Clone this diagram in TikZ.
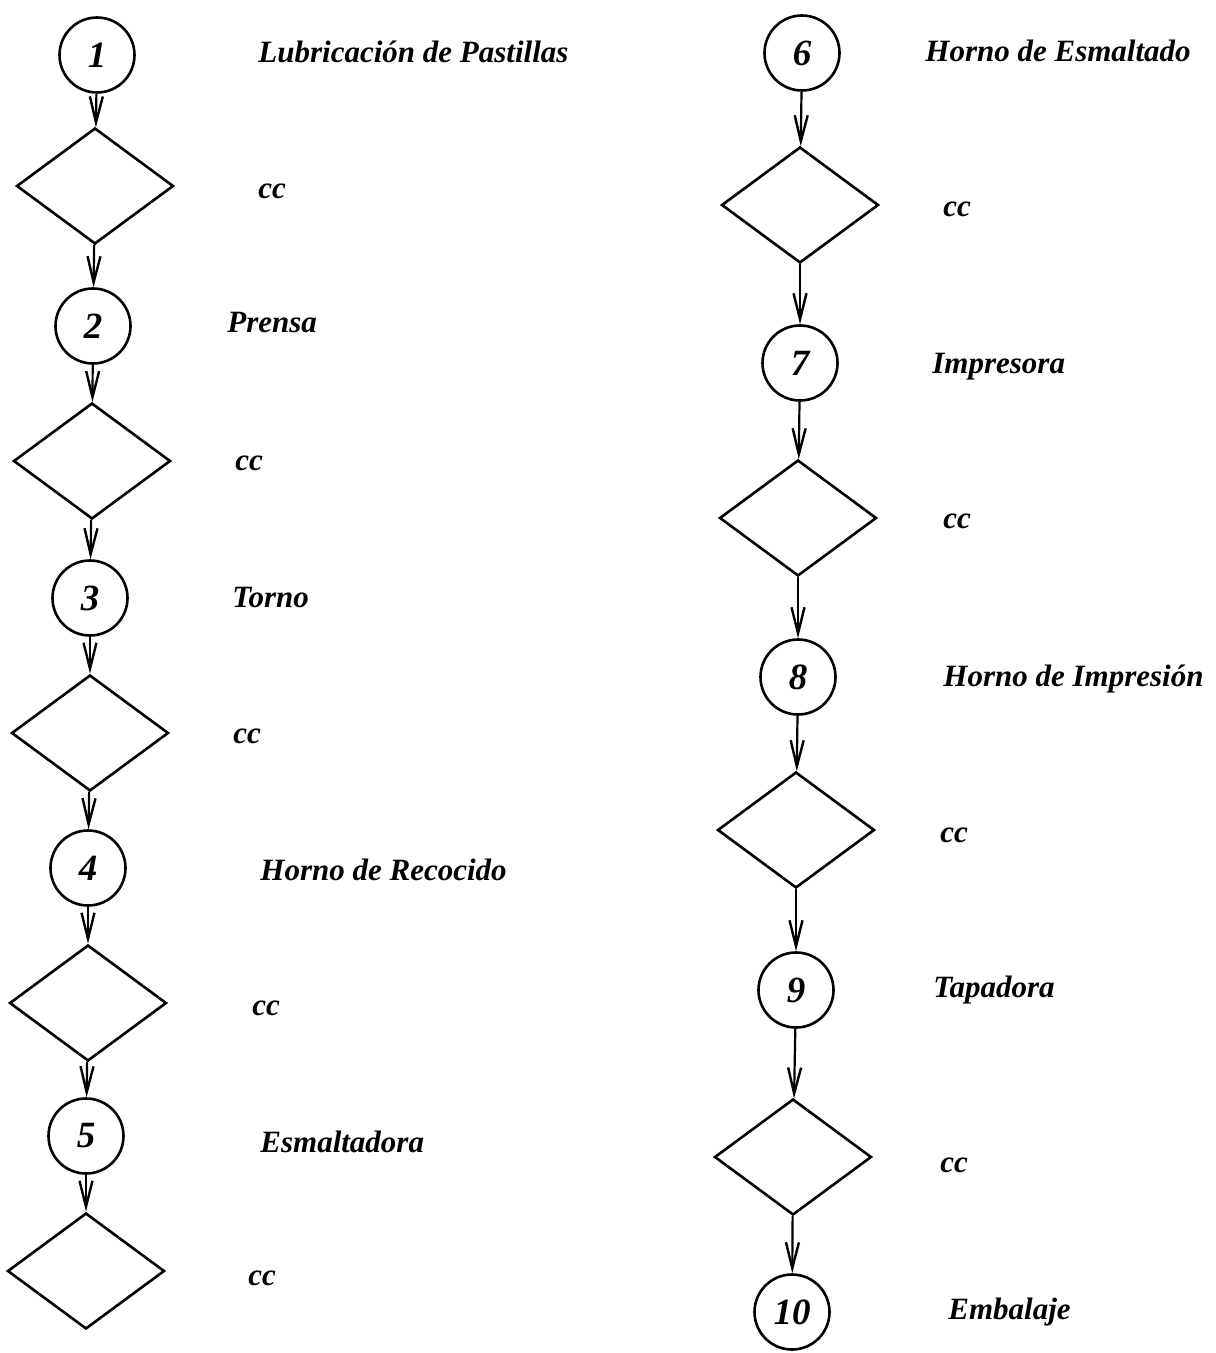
\documentclass[tikz,border=0pt]{standalone}
\usepackage{fontspec}
\setmainfont{Liberation Serif}
\usetikzlibrary{shapes.geometric,arrows.meta}
\tikzset{
  stepcircle/.style={circle,draw,line width=1.3pt,minimum size=37.5pt,inner sep=0pt,font=\fontsize{18.5}{20}\selectfont\bfseries\itshape},
  checkbox/.style={diamond,draw,line width=1.3pt,minimum width=78.5pt,minimum height=58pt,inner sep=0pt},
  lbl/.style={anchor=base west,inner sep=0pt,font=\fontsize{15.5}{18}\selectfont\bfseries\itshape},
  flow/.style={line width=1.1pt,-{Straight Barb[length=13pt,width=6.5pt,line width=1.2pt]}}
}
\begin{document}
\begin{tikzpicture}[x=0.5pt,y=-0.5pt]
\useasboundingbox (0,0) rectangle (1215,1353);
% left column
\node[stepcircle] (c1) at (97,55) {1};
\node[checkbox] (d1) at (95,186) {};
\node[stepcircle] (c2) at (93,326) {2};
\node[checkbox] (d2) at (92,461) {};
\node[stepcircle] (c3) at (90,598) {3};
\node[checkbox] (d3) at (90,733) {};
\node[stepcircle] (c4) at (88,868) {4};
\node[checkbox] (d4) at (88,1003) {};
\node[stepcircle] (c5) at (86,1136) {5};
\node[checkbox] (d5) at (86,1271) {};
% right column
\node[stepcircle] (c6) at (802,53) {6};
\node[checkbox] (d6) at (800,205) {};
\node[stepcircle] (c7) at (800,363) {7};
\node[checkbox] (d7) at (798,518) {};
\node[stepcircle] (c8) at (798,677) {8};
\node[checkbox] (d8) at (796,830) {};
\node[stepcircle] (c9) at (796,990) {9};
\node[checkbox] (d9) at (793,1157) {};
\node[stepcircle] (c10) at (792,1312) {10};
% labels
\node[lbl] (l1) at (258,63) {Lubricación de Pastillas};
\node[lbl] (k1) at (258,199) {cc};
\node[lbl] (l2) at (227,333) {Prensa};
\node[lbl] (k2) at (235,470) {cc};
\node[lbl] (l3) at (232,607) {Torno};
\node[lbl] (k3) at (233,743) {cc};
\node[lbl] (l4) at (260,880) {Horno de Recocido};
\node[lbl] (k4) at (252,1015) {cc};
\node[lbl] (l5) at (260,1152) {Esmaltadora};
\node[lbl] (k5) at (248,1285) {cc};
\node[lbl] (l6) at (925,62) {Horno de Esmaltado};
\node[lbl] (k6) at (943,217) {cc};
\node[lbl] (l7) at (932,373) {Impresora};
\node[lbl] (k7) at (943,528) {cc};
\node[lbl] (l8) at (943,686) {Horno de Impresión};
\node[lbl] (k8) at (940,842) {cc};
\node[lbl] (l9) at (933,997) {Tapadora};
\node[lbl] (k9) at (940,1172) {cc};
\node[lbl] (l10) at (948,1319) {Embalaje};
% connectors
\draw[flow] (c1) -- (d1);
\draw[flow] (d1) -- (c2);
\draw[flow] (c2) -- (d2);
\draw[flow] (d2) -- (c3);
\draw[flow] (c3) -- (d3);
\draw[flow] (d3) -- (c4);
\draw[flow] (c4) -- (d4);
\draw[flow] (d4) -- (c5);
\draw[flow] (c5) -- (d5);
\draw[flow] (c6) -- (d6);
\draw[flow] (d6) -- (c7);
\draw[flow] (c7) -- (d7);
\draw[flow] (d7) -- (c8);
\draw[flow] (c8) -- (d8);
\draw[flow] (d8) -- (c9);
\draw[flow] (c9) -- (d9);
\draw[flow] (d9) -- (c10);
\end{tikzpicture}
\end{document}
